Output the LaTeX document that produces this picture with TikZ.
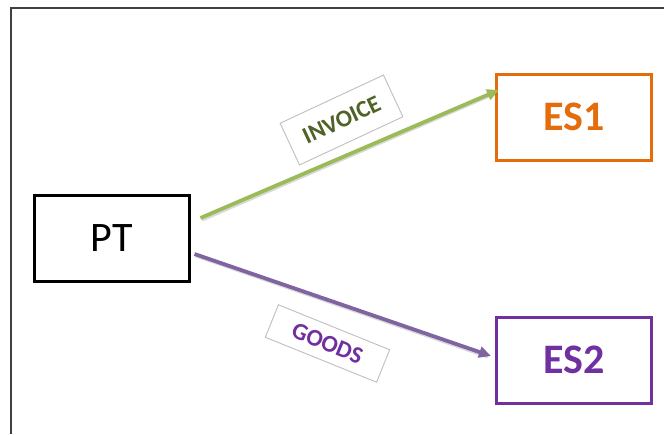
\documentclass[tikz,border=0pt]{standalone}
\usepackage{fontspec}
\setmainfont{Carlito}
\usetikzlibrary{arrows.meta}
\definecolor{esorange}{HTML}{E46C0A}
\definecolor{espurple}{HTML}{7030A0}
\definecolor{arrgreen}{HTML}{9BBB59}
\definecolor{arrpurple}{HTML}{8064A2}
\definecolor{txtgreen}{HTML}{4F6228}
\definecolor{lblgray}{HTML}{BFBFBF}
\tikzset{
  entity/.style={draw, line width=3pt, minimum width=155pt, minimum height=86pt, inner sep=0pt},
  lbl/.style={draw=lblgray, line width=0.9pt, inner sep=0pt, font=\bfseries\fontsize{24}{24}\selectfont},
  flow/.style={line width=3.8pt, -{Triangle[length=12pt,width=11pt]}},
  shadowline/.style={line width=4pt, draw=black, opacity=0.15},
  frameline/.style={draw=black!75, line width=1.6pt}
}
\begin{document}
\begin{tikzpicture}[x=1pt,y=-1pt]
\useasboundingbox (0,0) rectangle (664,434);
\fill[white] (0,0) rectangle (664,434);
\coordinate (fa) at (11,434);
\coordinate (fb) at (11,8);
\coordinate (fc) at (664,8);
\draw[frameline] (fa) -- (fb) -- (fc);

\node[entity, draw=black, font=\fontsize{42}{42}\selectfont] (PT) at (111.5,238) {PT};
\node[entity, draw=esorange, text=esorange, font=\bfseries\fontsize{42}{42}\selectfont] (ES1) at (574,117) {ES1};
\node[entity, draw=espurple, text=espurple, font=\bfseries\fontsize{42}{42}\selectfont] (ES2) at (574,360) {ES2};

\coordinate (g1) at ([xshift=10pt,yshift=20pt]PT.east);
\coordinate (g2) at ([xshift=4pt,yshift=27pt]ES1.west);
\coordinate (p1) at ([xshift=4pt,yshift=-16pt]PT.east);
\coordinate (p2) at ([xshift=-4pt,yshift=4pt]ES2.west);

\draw[shadowline] ([shift={(1.5pt,-1.5pt)}]g1) -- ([shift={(-3pt,-2.5pt)}]g2);
\draw[shadowline] ([shift={(1.5pt,-1.5pt)}]p1) -- ([shift={(-3pt,-0.5pt)}]p2);
\draw[flow, draw=arrgreen, fill=arrgreen] (g1) -- (g2);
\draw[flow, draw=arrpurple, fill=arrpurple] (p1) -- (p2);

\node[lbl, text=txtgreen, minimum width=114pt, minimum height=46pt, rotate=25] (inv) at (341.5,120) {INVOICE};
\node[lbl, text=espurple, minimum width=120pt, minimum height=35pt, rotate=-22] (goods) at (327.5,343.5) {GOODS};
\end{tikzpicture}
\end{document}
